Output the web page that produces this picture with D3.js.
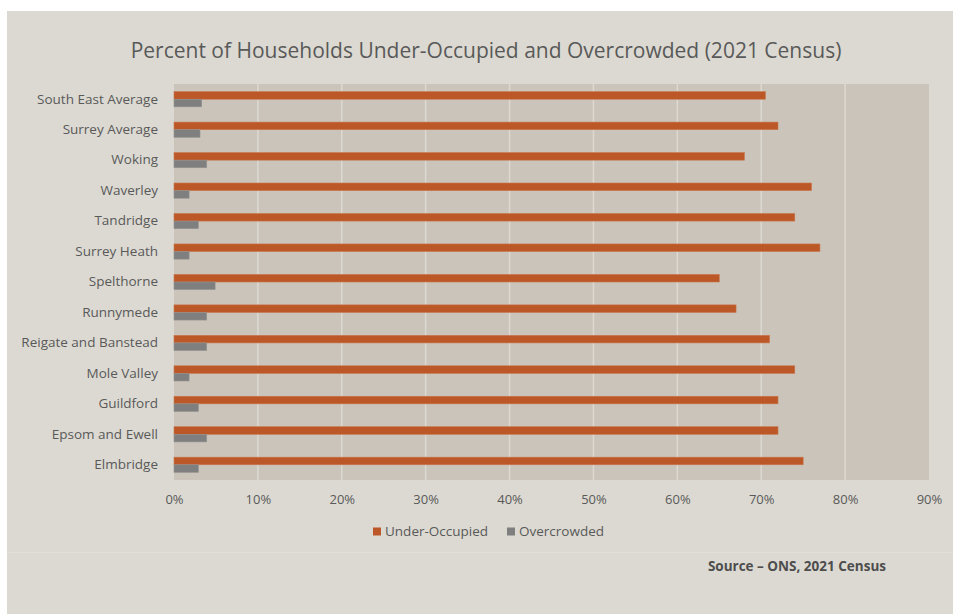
<!DOCTYPE html>
<html>
<head>
<meta charset="utf-8">
<script src="https://cdn.jsdelivr.net/npm/d3@7"></script>
<style>
  body { margin: 0; background: #ffffff; }
  svg { display: block; font-family: "Open Sans", "Noto Sans", sans-serif; }
</style>
</head>
<body>
<svg id="chart" width="953" height="614"></svg>
<script>
// categories top to bottom, as in the picture
var categories = ["South East Average", "Surrey Average", "Woking", "Waverley", "Tandridge",
    "Surrey Heath", "Spelthorne", "Runnymede", "Reigate and Banstead", "Mole Valley",
    "Guildford", "Epsom and Ewell", "Elmbridge"];
var underOccupied = [70.5, 72, 68, 76, 74, 77, 65, 67, 71, 74, 72, 72, 75];
var overcrowded = [3.3, 3.1, 3.9, 1.8, 2.9, 1.8, 4.9, 3.9, 3.9, 1.8, 2.9, 3.9, 2.9];
var seriesNames = ["Under-Occupied", "Overcrowded"];
var seriesColors = ["#bc5727", "#7f7f7f"];
var xTicks = [0, 10, 20, 30, 40, 50, 60, 70, 80, 90];

var svg = d3.select("#chart");
var width = 953, height = 614;
var plotLeft = 174, plotRight = 929, plotTop = 84, plotBottom = 480;

// panel background
svg.append("rect")
    .attr("x", 7).attr("y", 11)
    .attr("width", width - 7).attr("height", height - 11)
    .attr("fill", "#dcd9d2");

svg.append("line")
    .attr("x1", 7).attr("x2", width)
    .attr("y1", 552.5).attr("y2", 552.5)
    .attr("stroke", "#e3e0da").attr("stroke-width", 1);

// title
svg.append("text")
    .attr("x", 486).attr("y", 58)
    .attr("text-anchor", "middle")
    .attr("font-size", 21)
    .attr("fill", "#595959")
    .text("Percent of Households Under-Occupied and Overcrowded (2021 Census)");

var x = d3.scaleLinear().domain([0, 90]).range([plotLeft, plotRight]);
var y = d3.scaleBand().domain(categories).range([plotTop, plotBottom]);

// plot area
svg.append("rect")
    .attr("x", plotLeft).attr("y", plotTop)
    .attr("width", plotRight - plotLeft).attr("height", plotBottom - plotTop)
    .attr("fill", "#cbc4ba");

// gridlines
svg.append("g")
    .selectAll("line")
    .data(xTicks.slice(1, -1))
    .enter().append("line")
    .attr("x1", function(d) { return x(d); })
    .attr("x2", function(d) { return x(d); })
    .attr("y1", plotTop).attr("y2", plotBottom)
    .attr("stroke", "#dcd9d2")
    .attr("stroke-width", 1.5);

var barH = 7.6;

// under-occupied bars (upper)
svg.append("g")
    .selectAll("rect")
    .data(underOccupied)
    .enter().append("rect")
    .attr("x", x(0))
    .attr("y", function(d, i) { return y(categories[i]) + y.bandwidth() / 2 - barH; })
    .attr("width", function(d) { return x(d) - x(0); })
    .attr("height", barH)
    .attr("fill", seriesColors[0])
    .attr("stroke", "#c8784f")
    .attr("stroke-width", 0.6);

// overcrowded bars (lower)
svg.append("g")
    .selectAll("rect")
    .data(overcrowded)
    .enter().append("rect")
    .attr("x", x(0))
    .attr("y", function(d, i) { return y(categories[i]) + y.bandwidth() / 2; })
    .attr("width", function(d) { return x(d) - x(0); })
    .attr("height", barH)
    .attr("fill", seriesColors[1])
    .attr("stroke", "#959390")
    .attr("stroke-width", 0.6);

// category axis
var yAxis = svg.append("g")
    .attr("transform", "translate(" + (plotLeft - 16) + ",0)")
    .call(d3.axisLeft(y).tickSize(0).tickPadding(0));
yAxis.select(".domain").remove();
yAxis.selectAll("text")
    .attr("font-size", 13.5)
    .attr("font-family", "'Open Sans', sans-serif")
    .attr("fill", "#595959");

// value axis
var xAxis = svg.append("g")
    .attr("transform", "translate(0," + plotBottom + ")")
    .call(d3.axisBottom(x).tickValues(xTicks).tickSize(0).tickPadding(15)
        .tickFormat(function(d) { return d + "%"; }));
xAxis.select(".domain").remove();
xAxis.selectAll("text")
    .attr("font-size", 13)
    .attr("font-family", "'Open Sans', sans-serif")
    .attr("fill", "#595959");

// legend
var legendX = [373, 507];
var legend = svg.append("g")
    .selectAll("g")
    .data(seriesNames)
    .enter().append("g")
    .attr("transform", function(d, i) { return "translate(" + legendX[i] + ",527.5)"; });
legend.append("rect")
    .attr("width", 8).attr("height", 8)
    .attr("fill", function(d, i) { return seriesColors[i]; });
legend.append("text")
    .attr("x", 12).attr("y", 8.5)
    .attr("font-size", 13.5)
    .attr("fill", "#595959")
    .text(function(d) { return d; });

// source note
svg.append("text")
    .attr("x", 886).attr("y", 571)
    .attr("text-anchor", "end")
    .attr("font-size", 13.5)
    .attr("font-weight", "bold")
    .attr("fill", "#4d4d4d")
    .text("Source \u2013 ONS, 2021 Census");
</script>
</body>
</html>
